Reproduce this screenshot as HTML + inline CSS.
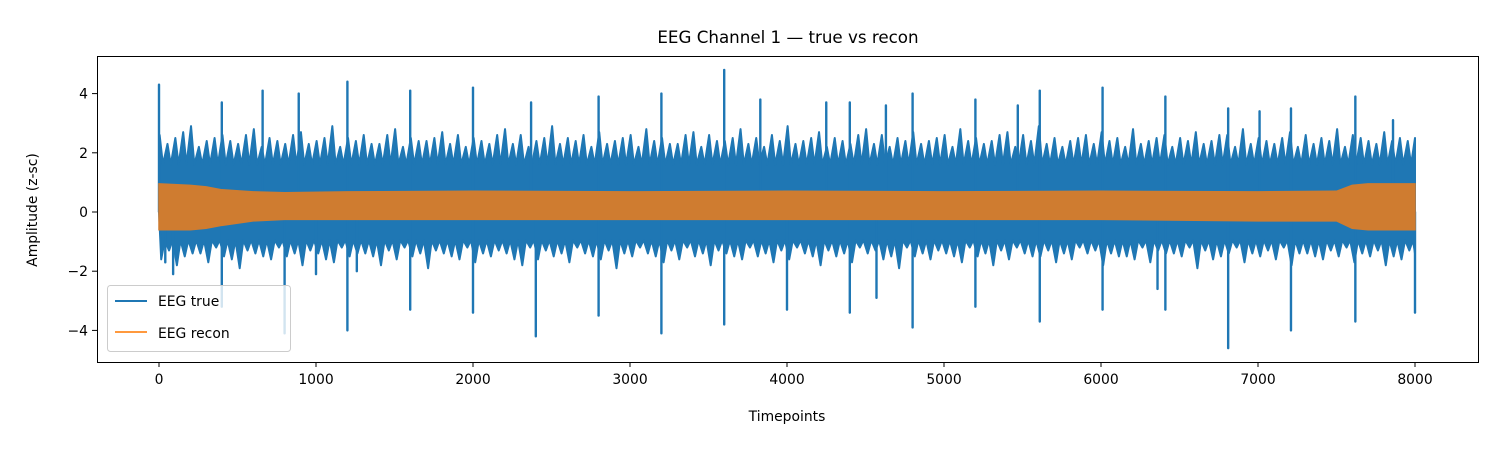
<!DOCTYPE html>
<html><head><meta charset="utf-8"><style>
body{margin:0;background:#fff;}
svg{display:block;font-family:"DejaVu Sans","Liberation Sans",sans-serif;}
</style></head><body>
<svg id="chart" width="1500" height="450" viewBox="0 0 1500 450">
<rect x="0" y="0" width="1500" height="450" fill="#fff"/>
<text x="788" y="43" font-size="16.7" text-anchor="middle">EEG Channel 1 — true vs recon</text>
<g id="plot"></g>
<g id="xt"></g>
<g id="yt"></g>
<rect x="97.5" y="56.5" width="1381" height="306" fill="none" stroke="#000" stroke-width="1"/>
<text x="787" y="421" font-size="13.9" text-anchor="middle">Timepoints</text>
<text transform="translate(37,210) rotate(-90)" font-size="13.9" text-anchor="middle">Amplitude (z-sc)</text>
<g>
<rect x="107.5" y="285.5" width="183" height="66" rx="3" fill="#fff" fill-opacity="0.8" stroke="#ccc"/>
<line x1="115" y1="301" x2="147" y2="301" stroke="#1f77b4" stroke-width="2"/>
<text x="158" y="306" font-size="13.9">EEG true</text>
<line x1="115" y1="332" x2="147" y2="332" stroke="#ff7f0e" stroke-opacity="0.8" stroke-width="2"/>
<text x="158" y="338" font-size="13.9">EEG recon</text>
</g>
</svg>
<script>
const xTicks=[0,1000,2000,3000,4000,5000,6000,7000,8000];
const yTicks=[-4,-2,0,2,4];
const binT=[0,100,200,300,400,500,600,700,800,900,1000,1100,1200,1300,1400,1500,1600,1700,1800,1900,2000,2100,2200,2300,2400,2500,2600,2700,2800,2900,3000,3100,3200,3300,3400,3500,3600,3700,3800,3900,4000,4100,4200,4300,4400,4500,4600,4700,4800,4900,5000,5100,5200,5300,5400,5500,5600,5700,5800,5900,6000,6100,6200,6300,6400,6500,6600,6700,6800,6900,7000,7100,7200,7300,7400,7500,7600,7700,7800,7900];
const trueHi=[2.6,2.5,2.9,2.4,2.6,2.3,2.8,2.5,2.3,2.7,2.4,2.9,2.5,2.6,2.3,2.8,2.5,2.4,2.7,2.6,2.5,2.3,2.8,2.6,2.4,2.9,2.5,2.6,2.7,2.4,2.6,2.8,2.5,2.3,2.7,2.6,2.4,2.8,2.5,2.6,2.9,2.4,2.7,2.5,2.3,2.8,2.6,2.5,2.7,2.4,2.6,2.8,2.5,2.4,2.7,2.6,2.9,2.5,2.4,2.6,2.7,2.5,2.8,2.4,2.6,2.5,2.7,2.4,2.6,2.8,2.5,2.3,2.7,2.6,2.5,2.8,2.6,2.4,2.7,2.5];
const trueHiB=[2.3,2.7,2.2,2.5,2.4,2.6,2.2,2.4,2.6,2.3,2.5,2.2,2.4,2.3,2.6,2.2,2.4,2.5,2.3,2.2,2.4,2.6,2.3,2.2,2.5,2.3,2.4,2.2,2.3,2.5,2.2,2.4,2.3,2.6,2.2,2.4,2.5,2.3,2.2,2.4,2.3,2.5,2.2,2.4,2.6,2.3,2.2,2.4,2.3,2.5,2.2,2.4,2.3,2.6,2.2,2.4,2.3,2.2,2.5,2.3,2.4,2.2,2.3,2.5,2.2,2.4,2.3,2.6,2.2,2.3,2.4,2.5,2.2,2.3,2.4,2.2,2.5,2.3,2.4,2.4];
const trueLo=[-1.6,-1.8,-1.4,-1.7,-1.5,-1.9,-1.4,-1.6,-1.5,-1.8,-1.4,-1.7,-1.5,-1.4,-1.8,-1.6,-1.5,-1.9,-1.4,-1.6,-1.7,-1.5,-1.4,-1.8,-1.6,-1.5,-1.7,-1.4,-1.6,-1.9,-1.5,-1.4,-1.7,-1.6,-1.5,-1.8,-1.4,-1.6,-1.5,-1.7,-1.6,-1.4,-1.8,-1.5,-1.7,-1.4,-1.6,-1.9,-1.5,-1.6,-1.4,-1.7,-1.5,-1.8,-1.6,-1.4,-1.5,-1.7,-1.6,-1.4,-1.8,-1.5,-1.6,-1.7,-1.4,-1.5,-1.9,-1.6,-1.4,-1.7,-1.5,-1.6,-1.8,-1.4,-1.6,-1.5,-1.7,-1.5,-1.8,-1.6];
const trueLoB=[-1.3,-1.5,-1.4,-1.2,-1.6,-1.3,-1.5,-1.2,-1.4,-1.3,-1.6,-1.2,-1.4,-1.5,-1.3,-1.2,-1.4,-1.3,-1.5,-1.2,-1.4,-1.3,-1.6,-1.2,-1.3,-1.4,-1.2,-1.5,-1.3,-1.4,-1.2,-1.5,-1.3,-1.2,-1.4,-1.3,-1.5,-1.2,-1.4,-1.3,-1.2,-1.5,-1.3,-1.4,-1.2,-1.3,-1.5,-1.2,-1.4,-1.3,-1.5,-1.2,-1.4,-1.3,-1.2,-1.5,-1.3,-1.4,-1.2,-1.3,-1.4,-1.5,-1.2,-1.3,-1.4,-1.2,-1.3,-1.5,-1.2,-1.4,-1.3,-1.2,-1.4,-1.5,-1.3,-1.2,-1.4,-1.3,-1.5,-1.3];
const coreHi=1.6, coreLo=-0.95;
const spikeUpT=[0,400,660,890,1200,1600,2000,2370,2800,3200,3600,3830,4250,4400,4630,4800,5200,5470,5610,6010,6410,6810,7010,7210,7620,7860];
const spikeUpV=[4.3,3.7,4.1,4.0,4.4,4.1,4.2,3.7,3.9,4.0,4.8,3.8,3.7,3.7,3.6,4.0,3.8,3.6,4.1,4.2,3.9,3.5,3.4,3.5,3.9,3.1];
const spikeDnT=[40,90,400,800,1000,1200,1260,1600,2000,2400,2800,3200,3600,4000,4400,4570,4800,5200,5610,6010,6360,6410,6810,7210,7620,8000];
const spikeDnV=[-1.7,-2.1,-3.2,-4.1,-2.1,-4.0,-2.0,-3.3,-3.4,-4.2,-3.5,-4.1,-3.8,-3.3,-3.4,-2.9,-3.9,-3.2,-3.7,-3.3,-2.6,-3.3,-4.6,-4.0,-3.7,-3.4];
const reconT=[0,200,300,400,600,800,1200,2000,3000,4000,5000,6000,7000,7500,7600,7700,7900,8000];
const reconHi=[0.95,0.9,0.85,0.75,0.68,0.65,0.68,0.7,0.68,0.7,0.68,0.7,0.68,0.7,0.9,0.95,0.95,0.95];
const reconLo=[-0.6,-0.6,-0.55,-0.45,-0.3,-0.25,-0.25,-0.25,-0.25,-0.25,-0.25,-0.25,-0.3,-0.3,-0.55,-0.6,-0.6,-0.6];

const X=t=>159+t*0.157;
const Y=v=>212-v*29.6;
const NS='http://www.w3.org/2000/svg';
const plot=document.getElementById('plot');
function mk(tag,attrs,parent){const e=document.createElementNS(NS,tag);for(const k in attrs)e.setAttribute(k,attrs[k]);parent.appendChild(e);return e;}

let up=[X(0)+','+Y(0)],dn=[X(0)+','+Y(0)];
for(let i=0;i<binT.length;i++){
  const t=binT[i];
  up.push(X(t+4)+','+Y(trueHi[i]));up.push(X(t+25)+','+Y(coreHi));
  up.push(X(t+54)+','+Y(trueHiB[i]));up.push(X(t+75)+','+Y(coreHi));
  dn.push(X(t+14)+','+Y(trueLo[i]));dn.push(X(t+37)+','+Y(coreLo));
  dn.push(X(t+64)+','+Y(trueLoB[i]));dn.push(X(t+87)+','+Y(coreLo));
}
up.push(X(8000)+','+Y(2.5));up.push(X(8000)+','+Y(0));
dn.push(X(8000)+','+Y(-1.4));dn.push(X(8000)+','+Y(0));
let pl=mk('polygon',{points:up.join(' '),fill:'#1f77b4',stroke:'#1f77b4','stroke-width':2,'stroke-linejoin':'round'},plot);


let pl2=mk('polygon',{points:dn.join(' '),fill:'#1f77b4',stroke:'#1f77b4','stroke-width':2,'stroke-linejoin':'round'},plot);


for(let i=0;i<spikeUpT.length;i++){
  let l=mk('line',{x1:X(spikeUpT[i]),x2:X(spikeUpT[i]),y1:Y(0),y2:Y(spikeUpV[i]),stroke:'#1f77b4','stroke-width':2.4,'stroke-linecap':'round'},plot);
  
  
}
for(let i=0;i<spikeDnT.length;i++){
  let l=mk('line',{x1:X(spikeDnT[i]),x2:X(spikeDnT[i]),y1:Y(0),y2:Y(spikeDnV[i]),stroke:'#1f77b4','stroke-width':2.4,'stroke-linecap':'round'},plot);
  
  
}
let op=[];
for(let i=0;i<reconT.length;i++)op.push(X(reconT[i])+','+Y(reconHi[i]));
for(let i=reconT.length-1;i>=0;i--)op.push(X(reconT[i])+','+Y(reconLo[i]));
let rb=mk('polygon',{points:op.join(' '),fill:'#cf7c30',stroke:'#cf7c30','stroke-width':1.5},plot);



const xt=document.getElementById('xt');
xTicks.forEach(t=>{
  let l=mk('line',{x1:X(t),x2:X(t),y1:362,y2:367,stroke:'#000'},xt);
  
  
  let tx=mk('text',{x:X(t),y:384,'font-size':13.9,'text-anchor':'middle'},xt);
  tx.textContent=t;
  
  
});
const yt=document.getElementById('yt');
yTicks.forEach(v=>{
  let l=mk('line',{x1:92,x2:97,y1:Y(v),y2:Y(v),stroke:'#000'},yt);
  
  
  let tx=mk('text',{x:88,y:Y(v)+5,'font-size':13.9,'text-anchor':'end'},yt);
  tx.textContent=v<0?'\u2212'+(-v):v;
  
  
});
</script>
</body></html>
